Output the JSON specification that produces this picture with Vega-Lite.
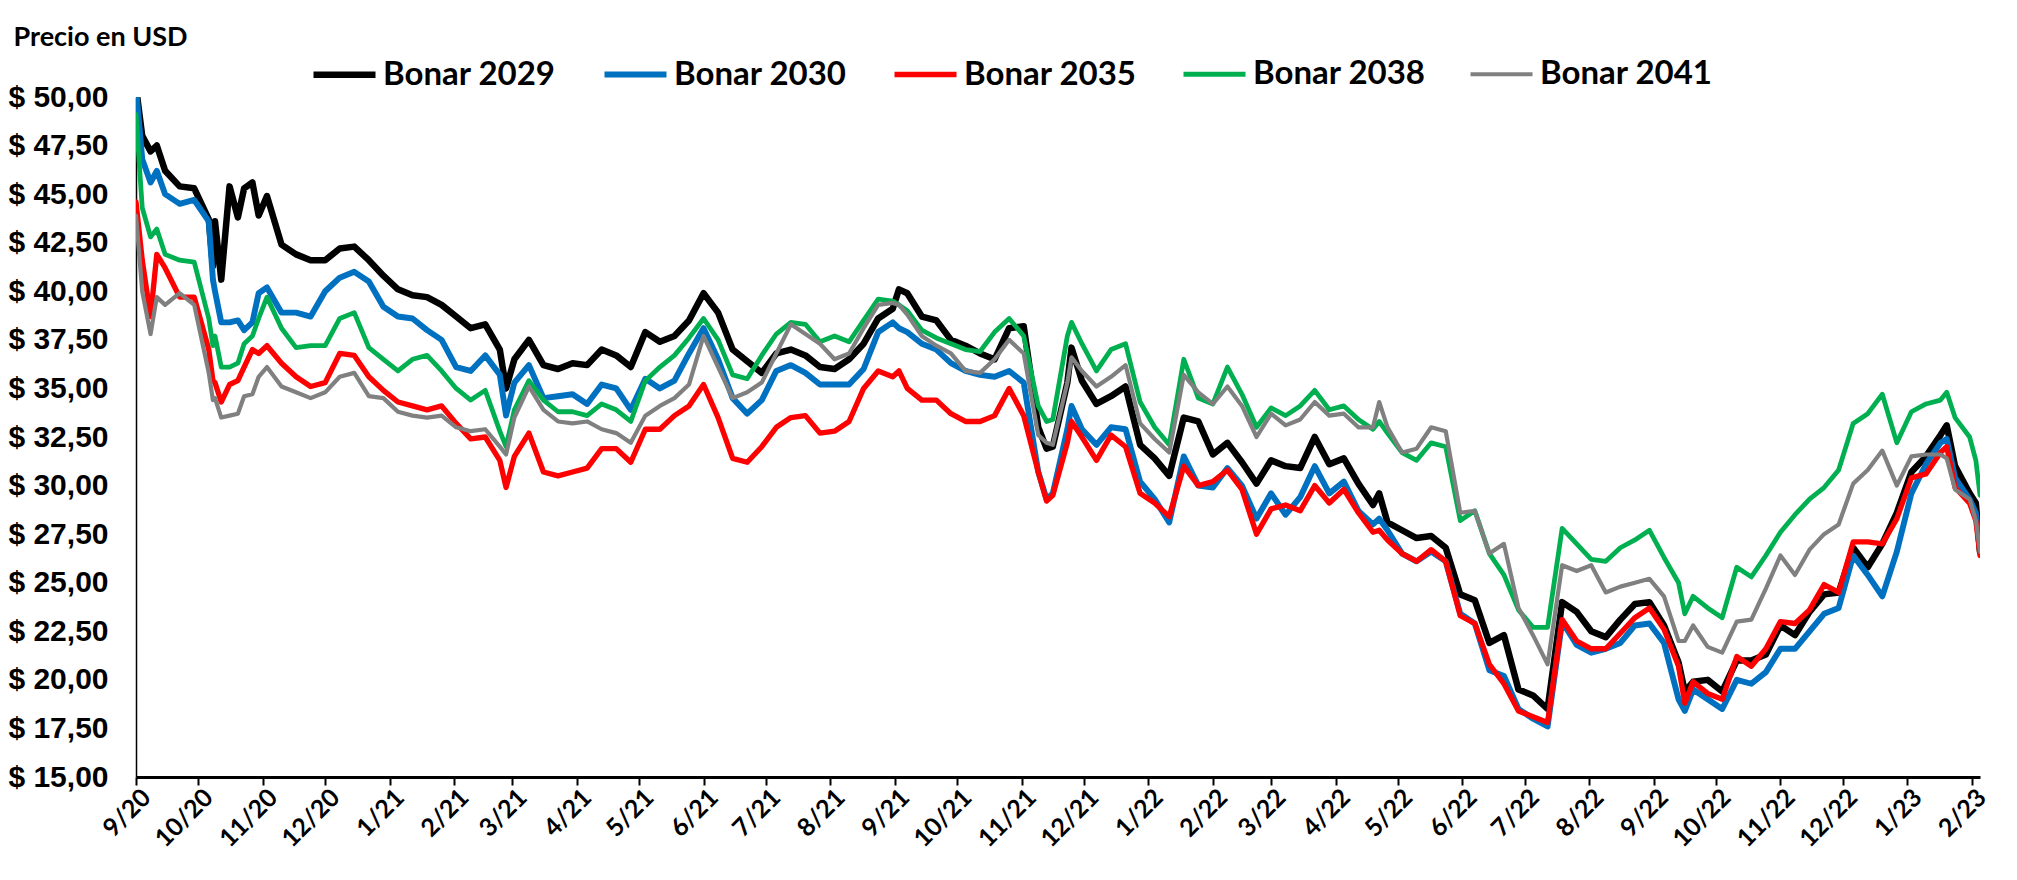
{
"$schema": "https://vega.github.io/schema/vega-lite/v6.json",
"width": 1844, "height": 680,
"autosize": {"type": "none"},
"padding": {"left": 136, "top": 97, "right": 37, "bottom": 103},
"background": "white",
"config": {"view": {"stroke": null}},
"data": {"format": {"parse": {"d": "date"}}, "values": [
{"d":"2020-09-01","2029":50.5,"2030":50.5,"2035":44.6,"2038":49.1,"2041":43.9},
{"d":"2020-09-04","2029":48.0,"2030":46.8,"2035":41.6,"2038":44.3,"2041":40.0},
{"d":"2020-09-08","2029":47.2,"2030":45.6,"2035":38.7,"2038":42.8,"2041":37.8},
{"d":"2020-09-11","2029":47.5,"2030":46.2,"2035":41.9,"2038":43.2,"2041":39.7},
{"d":"2020-09-15","2029":46.2,"2030":45.0,"2035":41.2,"2038":41.9,"2041":39.3},
{"d":"2020-09-22","2029":45.4,"2030":44.5,"2035":39.7,"2038":41.6,"2041":39.9},
{"d":"2020-09-29","2029":45.3,"2030":44.7,"2035":39.7,"2038":41.5,"2041":39.3},
{"d":"2020-10-06","2029":43.7,"2030":43.6,"2035":37.0,"2038":38.6,"2041":35.8},
{"d":"2020-10-08","2029":41.3,"2030":40.6,"2035":35.4,"2038":37.2,"2041":34.4},
{"d":"2020-10-09","2029":43.6,"2030":40.0,"2035":35.3,"2038":37.7,"2041":34.5},
{"d":"2020-10-12","2029":40.6,"2030":38.4,"2035":34.3,"2038":36.1,"2041":33.5},
{"d":"2020-10-16","2029":45.4,"2030":38.4,"2035":35.2,"2038":36.1,"2041":33.6},
{"d":"2020-10-20","2029":43.8,"2030":38.5,"2035":35.4,"2038":36.3,"2041":33.7},
{"d":"2020-10-23","2029":45.3,"2030":38.0,"2035":36.1,"2038":37.3,"2041":34.6},
{"d":"2020-10-27","2029":45.6,"2030":38.4,"2035":37.0,"2038":37.7,"2041":34.7},
{"d":"2020-10-30","2029":43.9,"2030":39.9,"2035":36.8,"2038":38.6,"2041":35.6},
{"d":"2020-11-03","2029":44.9,"2030":40.2,"2035":37.2,"2038":39.7,"2041":36.1},
{"d":"2020-11-10","2029":42.4,"2030":38.9,"2035":36.3,"2038":38.1,"2041":35.1},
{"d":"2020-11-17","2029":41.9,"2030":38.9,"2035":35.6,"2038":37.1,"2041":34.8},
{"d":"2020-11-24","2029":41.6,"2030":38.7,"2035":35.1,"2038":37.2,"2041":34.5},
{"d":"2020-12-01","2029":41.6,"2030":40.0,"2035":35.3,"2038":37.2,"2041":34.8},
{"d":"2020-12-08","2029":42.2,"2030":40.7,"2035":36.8,"2038":38.6,"2041":35.6},
{"d":"2020-12-15","2029":42.3,"2030":41.0,"2035":36.7,"2038":38.9,"2041":35.8},
{"d":"2020-12-22","2029":41.6,"2030":40.5,"2035":35.6,"2038":37.1,"2041":34.6},
{"d":"2020-12-29","2029":40.8,"2030":39.2,"2035":34.9,"2038":36.5,"2041":34.5},
{"d":"2021-01-05","2029":40.1,"2030":38.7,"2035":34.3,"2038":35.9,"2041":33.8},
{"d":"2021-01-12","2029":39.8,"2030":38.6,"2035":34.1,"2038":36.5,"2041":33.6},
{"d":"2021-01-19","2029":39.7,"2030":38.0,"2035":33.9,"2038":36.7,"2041":33.5},
{"d":"2021-01-26","2029":39.3,"2030":37.5,"2035":34.1,"2038":35.9,"2041":33.6},
{"d":"2021-02-02","2029":38.7,"2030":36.1,"2035":33.2,"2038":35.0,"2041":33.0},
{"d":"2021-02-09","2029":38.1,"2030":35.9,"2035":32.4,"2038":34.4,"2041":32.8},
{"d":"2021-02-16","2029":38.3,"2030":36.7,"2035":32.5,"2038":34.9,"2041":32.9},
{"d":"2021-02-23","2029":37.0,"2030":35.7,"2035":31.3,"2038":32.8,"2041":32.0},
{"d":"2021-02-26","2029":35.0,"2030":33.6,"2035":29.9,"2038":32.0,"2041":31.6},
{"d":"2021-03-02","2029":36.5,"2030":35.3,"2035":31.5,"2038":33.9,"2041":33.5},
{"d":"2021-03-09","2029":37.5,"2030":36.2,"2035":32.7,"2038":35.4,"2041":35.1},
{"d":"2021-03-16","2029":36.2,"2030":34.5,"2035":30.7,"2038":34.4,"2041":33.9},
{"d":"2021-03-23","2029":36.0,"2030":34.6,"2035":30.5,"2038":33.8,"2041":33.3},
{"d":"2021-03-30","2029":36.3,"2030":34.7,"2035":30.7,"2038":33.8,"2041":33.2},
{"d":"2021-04-06","2029":36.2,"2030":34.2,"2035":30.9,"2038":33.6,"2041":33.3},
{"d":"2021-04-13","2029":37.0,"2030":35.2,"2035":31.9,"2038":34.2,"2041":32.9},
{"d":"2021-04-20","2029":36.7,"2030":35.0,"2035":31.9,"2038":33.9,"2041":32.7},
{"d":"2021-04-27","2029":36.1,"2030":33.9,"2035":31.2,"2038":33.3,"2041":32.2},
{"d":"2021-05-04","2029":37.9,"2030":35.5,"2035":32.9,"2038":35.4,"2041":33.6},
{"d":"2021-05-11","2029":37.4,"2030":35.0,"2035":32.9,"2038":36.1,"2041":34.1},
{"d":"2021-05-18","2029":37.7,"2030":35.4,"2035":33.6,"2038":36.7,"2041":34.5},
{"d":"2021-05-25","2029":38.5,"2030":36.8,"2035":34.1,"2038":37.6,"2041":35.2},
{"d":"2021-06-01","2029":39.9,"2030":38.1,"2035":35.2,"2038":38.6,"2041":37.7},
{"d":"2021-06-08","2029":38.9,"2030":36.5,"2035":33.5,"2038":37.5,"2041":36.1},
{"d":"2021-06-15","2029":37.0,"2030":34.5,"2035":31.4,"2038":35.7,"2041":34.5},
{"d":"2021-06-22","2029":36.4,"2030":33.7,"2035":31.2,"2038":35.5,"2041":34.8},
{"d":"2021-06-29","2029":35.8,"2030":34.4,"2035":32.0,"2038":36.7,"2041":35.3},
{"d":"2021-07-06","2029":36.8,"2030":35.9,"2035":33.0,"2038":37.8,"2041":36.8},
{"d":"2021-07-13","2029":37.0,"2030":36.2,"2035":33.5,"2038":38.4,"2041":38.3},
{"d":"2021-07-20","2029":36.7,"2030":35.8,"2035":33.6,"2038":38.3,"2041":37.8},
{"d":"2021-07-27","2029":36.1,"2030":35.2,"2035":32.7,"2038":37.4,"2041":37.3},
{"d":"2021-08-03","2029":36.0,"2030":35.2,"2035":32.8,"2038":37.7,"2041":36.5},
{"d":"2021-08-10","2029":36.5,"2030":35.2,"2035":33.3,"2038":37.4,"2041":36.8},
{"d":"2021-08-17","2029":37.3,"2030":36.0,"2035":35.0,"2038":38.5,"2041":38.1},
{"d":"2021-08-24","2029":38.6,"2030":37.9,"2035":35.9,"2038":39.6,"2041":39.3},
{"d":"2021-08-31","2029":39.1,"2030":38.4,"2035":35.6,"2038":39.5,"2041":39.4},
{"d":"2021-09-03","2029":40.1,"2030":38.1,"2035":35.9,"2038":39.3,"2041":39.3},
{"d":"2021-09-07","2029":39.9,"2030":37.9,"2035":35.0,"2038":39.0,"2041":38.8},
{"d":"2021-09-14","2029":38.7,"2030":37.3,"2035":34.4,"2038":38.0,"2041":37.7},
{"d":"2021-09-21","2029":38.5,"2030":37.0,"2035":34.4,"2038":37.6,"2041":37.2},
{"d":"2021-09-28","2029":37.5,"2030":36.3,"2035":33.7,"2038":37.3,"2041":36.8},
{"d":"2021-10-05","2029":37.2,"2030":35.9,"2035":33.3,"2038":37.0,"2041":35.9},
{"d":"2021-10-12","2029":36.8,"2030":35.7,"2035":33.3,"2038":36.9,"2041":35.8},
{"d":"2021-10-19","2029":36.5,"2030":35.6,"2035":33.6,"2038":37.9,"2041":36.5},
{"d":"2021-10-26","2029":38.1,"2030":35.9,"2035":35.0,"2038":38.6,"2041":37.5},
{"d":"2021-11-02","2029":38.2,"2030":35.3,"2035":33.6,"2038":37.7,"2041":36.8},
{"d":"2021-11-09","2029":33.0,"2030":30.7,"2035":30.7,"2038":34.1,"2041":32.6},
{"d":"2021-11-13","2029":31.9,"2030":29.3,"2035":29.2,"2038":33.3,"2041":32.2},
{"d":"2021-11-16","2029":32.0,"2030":29.6,"2035":29.5,"2038":33.4,"2041":32.1},
{"d":"2021-11-23","2029":35.3,"2030":32.9,"2035":32.2,"2038":37.7,"2041":35.3},
{"d":"2021-11-25","2029":37.1,"2030":34.1,"2035":33.3,"2038":38.4,"2041":36.6},
{"d":"2021-11-30","2029":35.4,"2030":32.9,"2035":32.5,"2038":37.3,"2041":35.9},
{"d":"2021-12-07","2029":34.2,"2030":32.1,"2035":31.3,"2038":35.9,"2041":35.1},
{"d":"2021-12-14","2029":34.6,"2030":33.0,"2035":32.6,"2038":37.0,"2041":35.6},
{"d":"2021-12-21","2029":35.1,"2030":32.9,"2035":32.0,"2038":37.3,"2041":36.2},
{"d":"2021-12-28","2029":32.1,"2030":30.2,"2035":29.6,"2038":34.3,"2041":33.2},
{"d":"2022-01-04","2029":31.4,"2030":29.3,"2035":29.1,"2038":33.0,"2041":32.4},
{"d":"2022-01-11","2029":30.5,"2030":28.1,"2035":28.4,"2038":32.1,"2041":31.7},
{"d":"2022-01-18","2029":33.5,"2030":31.5,"2035":31.0,"2038":36.5,"2041":35.7},
{"d":"2022-01-25","2029":33.3,"2030":30.0,"2035":30.0,"2038":34.5,"2041":34.8},
{"d":"2022-02-01","2029":31.6,"2030":29.9,"2035":30.2,"2038":34.2,"2041":34.2},
{"d":"2022-02-08","2029":32.2,"2030":30.9,"2035":30.8,"2038":36.1,"2041":35.1},
{"d":"2022-02-15","2029":31.2,"2030":30.0,"2035":29.8,"2038":34.7,"2041":34.1},
{"d":"2022-02-22","2029":30.1,"2030":28.3,"2035":27.5,"2038":33.0,"2041":32.5},
{"d":"2022-03-01","2029":31.3,"2030":29.6,"2035":28.8,"2038":34.0,"2041":33.7},
{"d":"2022-03-08","2029":31.0,"2030":28.5,"2035":29.0,"2038":33.6,"2041":33.1},
{"d":"2022-03-15","2029":30.9,"2030":29.4,"2035":28.7,"2038":34.1,"2041":33.4},
{"d":"2022-03-22","2029":32.5,"2030":31.0,"2035":30.0,"2038":34.9,"2041":34.3},
{"d":"2022-03-29","2029":31.1,"2030":29.6,"2035":29.1,"2038":33.9,"2041":33.6},
{"d":"2022-04-05","2029":31.4,"2030":30.2,"2035":29.8,"2038":34.1,"2041":33.7},
{"d":"2022-04-12","2029":30.1,"2030":28.7,"2035":28.6,"2038":33.4,"2041":33.0},
{"d":"2022-04-19","2029":29.0,"2030":28.0,"2035":27.6,"2038":32.9,"2041":33.0},
{"d":"2022-04-22","2029":29.6,"2030":28.3,"2035":27.7,"2038":33.3,"2041":34.3},
{"d":"2022-04-26","2029":28.1,"2030":27.7,"2035":27.2,"2038":32.7,"2041":33.0},
{"d":"2022-05-03","2029":27.7,"2030":26.5,"2035":26.5,"2038":31.7,"2041":31.7},
{"d":"2022-05-10","2029":27.3,"2030":26.1,"2035":26.1,"2038":31.3,"2041":31.9},
{"d":"2022-05-17","2029":27.4,"2030":26.6,"2035":26.7,"2038":32.2,"2041":33.0},
{"d":"2022-05-24","2029":26.8,"2030":26.1,"2035":26.1,"2038":32.0,"2041":32.8},
{"d":"2022-05-31","2029":24.4,"2030":23.4,"2035":23.3,"2038":28.2,"2041":28.6},
{"d":"2022-06-07","2029":24.1,"2030":22.9,"2035":22.9,"2038":28.7,"2041":28.7},
{"d":"2022-06-14","2029":21.9,"2030":20.5,"2035":20.8,"2038":26.5,"2041":26.5},
{"d":"2022-06-21","2029":22.3,"2030":20.2,"2035":19.8,"2038":25.4,"2041":27.0},
{"d":"2022-06-28","2029":19.5,"2030":18.5,"2035":18.4,"2038":23.6,"2041":23.7},
{"d":"2022-07-05","2029":19.2,"2030":18.0,"2035":18.1,"2038":22.7,"2041":22.3},
{"d":"2022-07-12","2029":18.5,"2030":17.6,"2035":17.8,"2038":22.7,"2041":20.8},
{"d":"2022-07-19","2029":24.0,"2030":23.0,"2035":23.1,"2038":27.8,"2041":25.9},
{"d":"2022-07-26","2029":23.5,"2030":21.8,"2035":22.0,"2038":27.0,"2041":25.6},
{"d":"2022-08-02","2029":22.5,"2030":21.4,"2035":21.6,"2038":26.2,"2041":25.9},
{"d":"2022-08-09","2029":22.2,"2030":21.6,"2035":21.6,"2038":26.1,"2041":24.5},
{"d":"2022-08-16","2029":23.1,"2030":21.9,"2035":22.4,"2038":26.8,"2041":24.8},
{"d":"2022-08-23","2029":23.9,"2030":22.8,"2035":23.2,"2038":27.2,"2041":25.0},
{"d":"2022-08-30","2029":24.0,"2030":22.9,"2035":23.7,"2038":27.7,"2041":25.2},
{"d":"2022-09-06","2029":22.8,"2030":21.9,"2035":22.6,"2038":26.3,"2041":24.3},
{"d":"2022-09-13","2029":20.9,"2030":19.0,"2035":20.7,"2038":25.0,"2041":22.0},
{"d":"2022-09-16","2029":19.4,"2030":18.4,"2035":18.8,"2038":23.4,"2041":22.0},
{"d":"2022-09-20","2029":19.9,"2030":19.5,"2035":19.9,"2038":24.3,"2041":22.8},
{"d":"2022-09-27","2029":20.0,"2030":19.0,"2035":19.3,"2038":23.7,"2041":21.7},
{"d":"2022-10-04","2029":19.4,"2030":18.5,"2035":19.0,"2038":23.2,"2041":21.4},
{"d":"2022-10-11","2029":21.0,"2030":20.0,"2035":21.2,"2038":25.8,"2041":23.0},
{"d":"2022-10-18","2029":21.0,"2030":19.8,"2035":20.7,"2038":25.3,"2041":23.1},
{"d":"2022-10-25","2029":21.3,"2030":20.4,"2035":21.6,"2038":26.4,"2041":24.7},
{"d":"2022-11-01","2029":22.8,"2030":21.6,"2035":23.0,"2038":27.6,"2041":26.4},
{"d":"2022-11-08","2029":22.3,"2030":21.6,"2035":22.9,"2038":28.5,"2041":25.4},
{"d":"2022-11-15","2029":23.5,"2030":22.5,"2035":23.6,"2038":29.3,"2041":26.7},
{"d":"2022-11-22","2029":24.4,"2030":23.4,"2035":24.9,"2038":29.9,"2041":27.5},
{"d":"2022-11-29","2029":24.5,"2030":23.7,"2035":24.5,"2038":30.8,"2041":28.0},
{"d":"2022-12-06","2029":26.8,"2030":26.4,"2035":27.1,"2038":33.2,"2041":30.1},
{"d":"2022-12-13","2029":25.8,"2030":25.4,"2035":27.1,"2038":33.7,"2041":30.8},
{"d":"2022-12-20","2029":27.0,"2030":24.3,"2035":27.0,"2038":34.7,"2041":31.8},
{"d":"2022-12-27","2029":28.6,"2030":26.6,"2035":28.3,"2038":32.2,"2041":30.0},
{"d":"2023-01-03","2029":30.7,"2030":29.6,"2035":30.4,"2038":33.8,"2041":31.5},
{"d":"2023-01-10","2029":31.5,"2030":31.1,"2035":30.6,"2038":34.2,"2041":31.6},
{"d":"2023-01-17","2029":32.6,"2030":32.2,"2035":31.7,"2038":34.4,"2041":31.6},
{"d":"2023-01-20","2029":33.1,"2030":32.4,"2035":32.0,"2038":34.8,"2041":31.4},
{"d":"2023-01-24","2029":31.0,"2030":30.4,"2035":29.9,"2038":33.5,"2041":29.8},
{"d":"2023-01-31","2029":29.6,"2030":29.3,"2035":29.1,"2038":32.5,"2041":29.3},
{"d":"2023-02-03","2029":29.1,"2030":28.6,"2035":28.2,"2038":31.3,"2041":28.2},
{"d":"2023-02-05","2029":26.6,"2030":26.6,"2035":26.4,"2038":29.5,"2041":26.6}
]},
"transform": [{"fold": ["2029","2030","2035","2038","2041"], "as": ["serie","precio"]}],
"mark": {"type": "line", "clip": true, "strokeJoin": "round", "strokeCap": "round"},
"encoding": {
  "x": {"field": "d", "type": "temporal",
    "scale": {"type": "utc", "domain": [{"year":2020,"month":9,"date":1,"utc":true},{"year":2023,"month":2,"date":5,"utc":true}]},
    "axis": {"title": null, "labelExpr": "utcFormat(datum.value, '%-m/%y')", "tickCount": {"interval": "month", "step": 1},
      "labelAngle": -45, "labelAlign": "right", "labelBaseline": "middle", "labelFont": "Lato", "labelFontSize": 25, "labelFontWeight": "bold", "labelColor": "black",
      "labelOffset": 10, "labelPadding": 8, "tickSize": 8, "tickWidth": 2, "tickColor": "black", "domainColor": "black", "domainWidth": 3, "grid": false, "labelOverlap": false, "labelFlush": false}},
  "y": {"field": "precio", "type": "quantitative",
    "scale": {"domain": [15, 50], "nice": false, "zero": false},
    "axis": {"title": "Precio en USD", "titleAngle": 0, "titleAlign": "left", "titleBaseline": "alphabetic", "titleX": -123, "titleY": -52,
      "titleFont": "Lato", "titleFontSize": 27, "titleFontWeight": "bold", "titleColor": "black",
      "values": [15, 17.5, 20, 22.5, 25, 27.5, 30, 32.5, 35, 37.5, 40, 42.5, 45, 47.5, 50],
      "labelExpr": "'$ ' + replace(format(datum.value, '.2f'), '.', ',')",
      "ticks": false, "labelPadding": 28, "labelFont": "Liberation Sans", "labelFontSize": 30, "labelFontWeight": "bold", "labelColor": "black", "labelBaseline": "middle", "labelOverlap": false,
      "domainColor": "black", "domainWidth": 1.5, "grid": false}},
  "color": {"field": "serie", "type": "nominal",
    "scale": {"domain": ["2029","2030","2035","2038","2041"], "range": ["#000000","#0070C0","#FF0000","#00B050","#808080"]},
    "legend": {"orient": "none", "legendX": 174, "legendY": -57, "direction": "horizontal", "columns": 5, "title": null,
      "symbolType": "stroke", "symbolSize": 3844, "labelExpr": "'Bonar ' + datum.label",
      "labelFont": "Lato", "labelFontWeight": "bold", "labelFontSize": 33, "labelColor": "black", "labelOffset": 4,
      "columnPadding": 36, "padding": 0, "labelLimit": 400}},
  "strokeWidth": {"field": "serie", "type": "nominal",
    "scale": {"domain": ["2029","2030","2035","2038","2041"], "range": [6.5, 4.2, 4.2, 4.2, 4.2]},
    "legend": {"orient": "none", "legendX": 174, "legendY": -57, "direction": "horizontal", "columns": 5, "title": null,
      "symbolType": "stroke", "symbolSize": 3844, "labelExpr": "'Bonar ' + datum.label",
      "labelFont": "Lato", "labelFontWeight": "bold", "labelFontSize": 33, "labelColor": "black", "labelOffset": 4,
      "columnPadding": 36, "padding": 0, "labelLimit": 400}}
}
}
